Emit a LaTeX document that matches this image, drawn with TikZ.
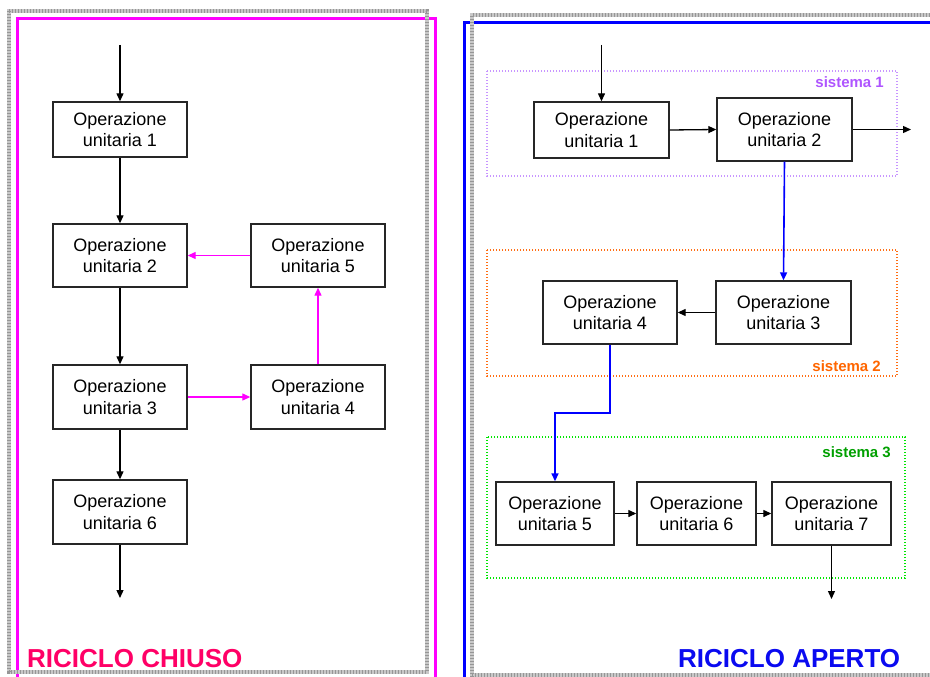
\documentclass[tikz,border=0pt]{standalone}
\usepackage{fontspec}
\setmainfont{Liberation Sans}
\usetikzlibrary{arrows.meta}
\definecolor{magframe}{RGB}{255,0,255}
\definecolor{blueframe}{RGB}{0,0,255}
\definecolor{titlered}{RGB}{255,0,102}
\definecolor{titleblue}{RGB}{10,10,240}
\definecolor{violetline}{RGB}{200,150,255}
\definecolor{violettext}{RGB}{175,85,255}
\definecolor{orangeline}{RGB}{255,110,20}
\definecolor{orangetext}{RGB}{255,102,0}
\definecolor{greenline}{RGB}{0,230,0}
\definecolor{greentext}{RGB}{0,160,0}
\definecolor{framegray}{RGB}{200,200,200}
\definecolor{framedark}{RGB}{150,150,150}
\tikzset{
  opbox/.style={draw=black!85, line width=1.4pt, fill=white, align=center,
    font=\fontsize{18}{21.3}\selectfont, inner sep=0pt},
  flow/.style={draw=black, line width=1.3pt, -{Triangle[length=8pt,width=7pt]}},
  magflow/.style={draw=magframe, line width=1.3pt, -{Triangle[length=8pt,width=7pt]}},
  blueflow/.style={draw=blueframe, line width=1.6pt, -{Triangle[length=8pt,width=7pt]}},
  grayframe/.style={draw=framegray, line width=3.6pt},
  grayframedash/.style={draw=framedark, line width=3.6pt, dash pattern=on 1.3pt off 1.7pt},
  sysbox/.style={line width=1.4pt, dash pattern=on 1.4pt off 1.6pt},
  syslabel/.style={font=\fontsize{15}{18}\selectfont\bfseries, anchor=east, inner sep=0pt},
  titletext/.style={font=\fontsize{26}{30}\selectfont\bfseries, anchor=base west, inner sep=0pt},
}
\begin{document}
\begin{tikzpicture}[x=1pt,y=-1pt]
\useasboundingbox (0,0) rectangle (930,677);
\fill[white] (0,0) rectangle (930,677);

% frames
\draw[magframe, line width=3pt] (17,680) -- (17,19) -- (435,19) -- (435,680);
\draw[blueframe, line width=3pt] (464.5,690) -- (464.5,22.5) -- (940,22.5);
\draw[grayframe] (9,11) rectangle (427,672);
\draw[grayframedash] (9,11) rectangle (427,672);
\draw[grayframe] (472,680) -- (472,15) -- (940,15);
\draw[grayframe] (472,675) -- (940,675);
\draw[grayframedash] (472,680) -- (472,15) -- (940,15);
\draw[grayframedash] (472,675) -- (940,675);

% left diagram
\node[opbox, minimum width=134pt, minimum height=55pt] (L1) at (120,129.5) {Operazione\\unitaria 1};
\node[opbox, minimum width=134pt, minimum height=63pt] (L2) at (120,255.5) {Operazione\\unitaria 2};
\node[opbox, minimum width=134pt, minimum height=64pt] (L3) at (120,397) {Operazione\\unitaria 3};
\node[opbox, minimum width=134pt, minimum height=64pt] (L6) at (120,512) {Operazione\\unitaria 6};
\node[opbox, minimum width=134pt, minimum height=63pt] (L5) at (318,255.5) {Operazione\\unitaria 5};
\node[opbox, minimum width=134pt, minimum height=64pt] (L4) at (318,397) {Operazione\\unitaria 4};

\coordinate (Lin) at (120,45);
\coordinate (Lout) at (120,598);
\draw[flow] (Lin) -- (L1.north);
\draw[flow] (L1.south) -- (L2.north);
\draw[flow] (L2.south) -- (L3.north);
\draw[flow] (L3.south) -- (L6.north);
\draw[flow] (L6.south) -- (Lout);
\draw[magflow] (L5.west) -- (L2.east);
\draw[magflow] (L3.east) -- (L4.west);
\draw[magflow] (L4.north) -- (L5.south);

% right diagram: system boxes
\draw[sysbox, violetline] (487,71) rectangle (897,176);
\draw[sysbox, orangeline] (487,250) rectangle (897,376);
\draw[sysbox, greenline] (487,437) rectangle (905,578);
\node[syslabel, text=violettext] (S1) at (884,82) {sistema 1};
\node[syslabel, text=orangetext] (S2) at (881,366) {sistema 2};
\node[syslabel, text=greentext] (S3) at (891,452) {sistema 3};

\node[opbox, minimum width=135pt, minimum height=56pt] (R1) at (601.5,130) {Operazione\\unitaria 1};
\node[opbox, minimum width=135pt, minimum height=63pt] (R2) at (784.5,129.5) {Operazione\\unitaria 2};
\node[opbox, minimum width=135pt, minimum height=63pt] (R3) at (783.5,312.5) {Operazione\\unitaria 3};
\node[opbox, minimum width=134pt, minimum height=63pt] (R4) at (610,312.5) {Operazione\\unitaria 4};
\node[opbox, minimum width=118pt, minimum height=63pt] (R5) at (555,513.5) {Operazione\\unitaria 5};
\node[opbox, minimum width=119pt, minimum height=63pt] (R6) at (696.5,513.5) {Operazione\\unitaria 6};
\node[opbox, minimum width=119pt, minimum height=63pt] (R7) at (831.5,513.5) {Operazione\\unitaria 7};

\coordinate (Rin) at (601.5,45);
\coordinate (Rout1) at (911,129.5);
\coordinate (Rbend1) at (610,413);
\coordinate (Rbend2) at (555,413);
\coordinate (Rout2) at (831.5,599);
\draw[flow] (Rin) -- (R1.north);
\draw[flow] (R1.east) -- (R2.west);
\draw[flow] (R2.east) -- (Rout1);
\draw[blueflow] (R2.south) -- (R3.north);
\draw[flow] (R3.west) -- (R4.east);
\draw[blueflow] (R4.south) -- (Rbend1) -- (Rbend2) -- (R5.north);
\draw[flow] (R5.east) -- (R6.west);
\draw[flow] (R6.east) -- (R7.west);
\draw[flow] (R7.south) -- (Rout2);

% titles
\node[titletext, text=titlered] (T1) at (27,667) {RICICLO CHIUSO};
\node[titletext, text=titleblue] (T2) at (678,667) {RICICLO APERTO};
\end{tikzpicture}
\end{document}
